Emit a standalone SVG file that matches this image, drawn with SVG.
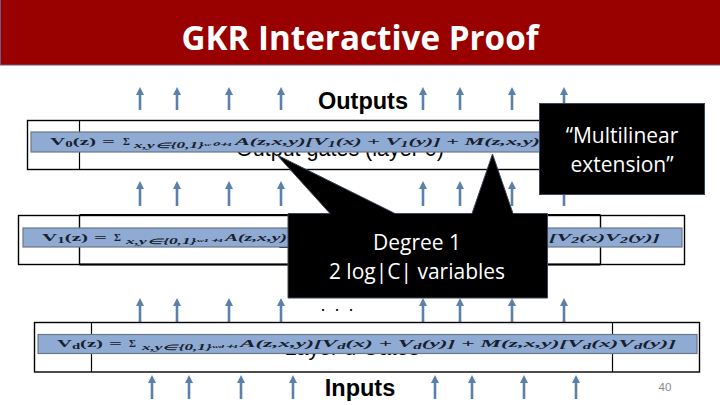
<svg xmlns="http://www.w3.org/2000/svg" width="720" height="405" viewBox="0 0 720 405">
<style>
.cell{fill:#fff;stroke:#000;stroke-width:1.4}
.band{fill:#8faad3;stroke:#6c7785;stroke-width:1.2}
.arrow{stroke:#5b80ab;stroke-width:2.6;fill:none;marker-end:url(#head)}
.f{font-family:"Liberation Serif",serif;font-size:10.5px;font-weight:bold;fill:#17202c}
.fi{font-family:"Liberation Serif",serif;font-size:10.5px;font-weight:bold;font-style:italic;fill:#17202c}
.s{font-family:"Liberation Serif",serif;font-size:7.5px;font-weight:bold;font-style:italic;fill:#17202c}
.hd{font-family:"Liberation Sans",Arial,sans-serif;font-weight:bold;font-size:23.5px;fill:#000;text-anchor:middle}
.lay{font-family:"Liberation Sans",Arial,sans-serif;font-size:21.5px;fill:#000;text-anchor:middle}
.call{font-family:"Open Sans",sans-serif;font-size:21px;fill:#fff;text-anchor:middle}
.box{fill:#000;stroke:#3a4656;stroke-width:1}
</style>
<defs>
<marker id="head" markerUnits="userSpaceOnUse" markerWidth="10" markerHeight="10" refX="1" refY="5" orient="auto"><path d="M1 1L9 5L1 9Z" fill="#5b80ab"/></marker>
</defs>
<rect width="720" height="405" fill="#fff"/>
<g id="title">
<rect x="0.5" y="-1" width="720" height="66" fill="#990000" stroke="#6d5a86" stroke-width="1"/>
<text x="360" y="50" font-family="Open Sans, sans-serif" font-weight="bold" font-size="33.2px" fill="#fff" text-anchor="middle">GKR Interactive Proof</text>
</g>
<g id="connectors">
<path class="arrow" d="M140 110V95"/><path class="arrow" d="M177 110V95"/><path class="arrow" d="M229 110V95"/><path class="arrow" d="M281 110V95"/>
<path class="arrow" d="M423 110V95"/><path class="arrow" d="M460 110V95"/><path class="arrow" d="M512 110V95"/><path class="arrow" d="M564 110V95"/>
<path class="arrow" d="M140 206V189"/><path class="arrow" d="M177 206V189"/><path class="arrow" d="M229 206V189"/><path class="arrow" d="M281 206V189"/>
<path class="arrow" d="M423 206V189"/><path class="arrow" d="M460 206V189"/><path class="arrow" d="M512 206V189"/><path class="arrow" d="M564 206V189"/>
<path class="arrow" d="M140 322V306"/><path class="arrow" d="M177 322V306"/><path class="arrow" d="M229 322V306"/><path class="arrow" d="M281 322V306"/>
<path class="arrow" d="M423 322V306"/><path class="arrow" d="M460 322V306"/><path class="arrow" d="M512 322V306"/><path class="arrow" d="M564 322V306"/>
<path class="arrow" d="M152 399V383"/><path class="arrow" d="M189 399V383"/><path class="arrow" d="M241 399V383"/><path class="arrow" d="M293 399V383"/>
<path class="arrow" d="M435 399V383"/><path class="arrow" d="M472 399V383"/><path class="arrow" d="M524 399V383"/><path class="arrow" d="M576 399V383"/>
</g>
<g id="outputs-label"><text class="hd" x="363" y="109">Outputs</text></g>
<g id="layer-0">
<rect class="cell" x="27.5" y="120.5" width="652" height="49"/>
<path d="M79.5 120.5V169.5" stroke="#000" stroke-width="1.2"/>
<text class="lay" x="340" y="156">Output gates (layer 0)</text>
<rect class="band" x="31" y="132" width="515" height="20"/>
<text class="f" x="50" y="145" textLength="46" lengthAdjust="spacingAndGlyphs">V<tspan font-size="7.5px" dy="2">0</tspan><tspan dy="-2">(z)</tspan></text>
<text class="f" x="102" y="145" textLength="13" lengthAdjust="spacingAndGlyphs">=</text>
<text class="f" x="123" y="145">Σ</text>
<text class="s" x="134" y="148" textLength="98" lengthAdjust="spacingAndGlyphs">x,y∈{0,1}ʷ⁰⁺¹</text>
<text class="fi" x="235" y="145" textLength="305" lengthAdjust="spacingAndGlyphs">A(z,x,y)[V<tspan font-size="7.5px" dy="2">1</tspan><tspan dy="-2">(x) + V</tspan><tspan font-size="7.5px" dy="2">1</tspan><tspan dy="-2">(y)] + M(z,x,y)</tspan></text>
</g>
<g id="layer-1">
<rect class="cell" x="18.5" y="215.5" width="666" height="49"/>
<path d="M79.5 215V265M600.5 215V265" stroke="#000" stroke-width="1.4"/>
<path d="M79.5 215H600.5M79.5 264.5H600.5" stroke="#000" stroke-width="2"/>
<text class="lay" x="345" y="248">Layer 1 Gates</text>
<rect class="band" x="23" y="228" width="659" height="19"/>
<text class="f" x="42" y="241" textLength="46" lengthAdjust="spacingAndGlyphs">V<tspan font-size="7.5px" dy="2">1</tspan><tspan dy="-2">(z)</tspan></text>
<text class="f" x="94" y="241" textLength="13" lengthAdjust="spacingAndGlyphs">=</text>
<text class="f" x="114" y="241">Σ</text>
<text class="s" x="126" y="244" textLength="97" lengthAdjust="spacingAndGlyphs">x,y∈{0,1}ʷ¹⁺¹</text>
<text class="fi" x="225" y="241" textLength="62" lengthAdjust="spacingAndGlyphs">A(z,x,y)</text>
<text class="fi" x="549" y="241" textLength="111" lengthAdjust="spacingAndGlyphs">[V<tspan font-size="7.5px" dy="2">2</tspan><tspan dy="-2">(x)V</tspan><tspan font-size="7.5px" dy="2">2</tspan><tspan dy="-2">(y)]</tspan></text>
</g>
<g id="layer-d">
<rect class="cell" x="34.5" y="322.5" width="665" height="49.5"/>
<path d="M91.5 322.5V372M612.5 322.5V372" stroke="#000" stroke-width="1.2"/>
<text class="lay" x="352" y="355">Layer d Gates</text>
<rect class="band" x="38" y="334.5" width="659" height="19"/>
<text class="f" x="57" y="347" textLength="46" lengthAdjust="spacingAndGlyphs">V<tspan font-size="7.5px" dy="2">d</tspan><tspan dy="-2">(z)</tspan></text>
<text class="f" x="109" y="347" textLength="13" lengthAdjust="spacingAndGlyphs">=</text>
<text class="f" x="129" y="347">Σ</text>
<text class="s" x="142" y="350" textLength="96" lengthAdjust="spacingAndGlyphs">x,y∈{0,1}ʷᵈ⁺¹</text>
<text class="fi" x="240" y="347" textLength="436" lengthAdjust="spacingAndGlyphs">A(z,x,y)[V<tspan font-size="7.5px" dy="2">d</tspan><tspan dy="-2">(x) + V</tspan><tspan font-size="7.5px" dy="2">d</tspan><tspan dy="-2">(y)] + M(z,x,y)[V</tspan><tspan font-size="7.5px" dy="2">d</tspan><tspan dy="-2">(x)V</tspan><tspan font-size="7.5px" dy="2">d</tspan><tspan dy="-2">(y)]</tspan></text>
</g>
<g id="dots"><text x="337" y="311" font-family="Liberation Sans, sans-serif" font-size="18px" word-spacing="4" fill="#000" text-anchor="middle">. . .</text></g>
<g id="inputs-label"><text class="hd" x="360" y="396">Inputs</text></g>
<g id="page-number"><text x="665" y="391" font-family="Liberation Sans, sans-serif" font-size="11.5px" fill="#8b8b8b" text-anchor="middle">40</text></g>
<g id="callout-degree">
<path d="M288 213.5H330L277 155L395 213.5H472L492.5 154L513 213.5H547.5V298H288Z" fill="#000" stroke="#3a4656" stroke-width="1"/>
<text class="call" x="417" y="250">Degree 1</text>
<text class="call" x="417" y="279">2 log|C| variables</text>
</g>
<g id="callout-multilinear">
<rect class="box" x="539.5" y="103.5" width="165" height="91"/>
<text class="call" x="622" y="143">“Multilinear</text>
<text class="call" x="622" y="172">extension”</text>
</g>
</svg>
